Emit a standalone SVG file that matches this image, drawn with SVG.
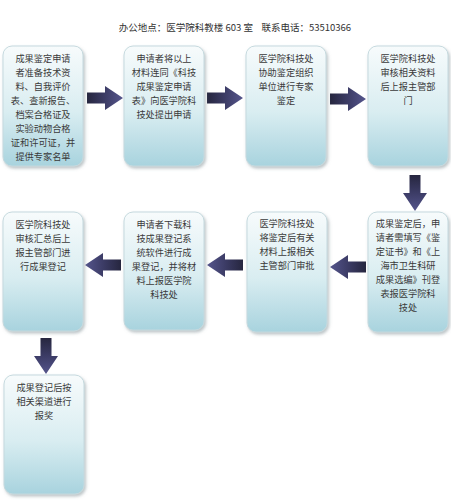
<svg xmlns="http://www.w3.org/2000/svg" width="451" height="500" viewBox="0 0 451 500">
<defs>
<linearGradient id="boxg" x1="0" y1="0" x2="0" y2="1">
<stop offset="0" stop-color="#f7fbfc"/>
<stop offset="0.55" stop-color="#d9edf1"/>
<stop offset="1" stop-color="#a8d3de"/>
</linearGradient>
<linearGradient id="arrg" x1="0" y1="0" x2="1" y2="0">
<stop offset="0" stop-color="#26263f"/>
<stop offset="0.5" stop-color="#3c3c66"/>
<stop offset="1" stop-color="#55558c"/>
</linearGradient>
<filter id="sh" x="-10%" y="-10%" width="130%" height="130%">
<feDropShadow dx="1.5" dy="2" stdDeviation="1.5" flood-color="#7a8a90" flood-opacity="0.5"/>
</filter>
<path id="arr" d="M0,-5.5 H18 V-12 L36,0 L18,12 V5.5 H0 Z"/>
</defs>
<style>
.box{fill:url(#boxg);stroke:#c5d9de;stroke-width:1;filter:url(#sh)}
.t{font-family:"Noto Sans CJK SC","Liberation Sans",sans-serif;font-size:9.2px;fill:#3a3a3a;text-anchor:middle}
.title{font-family:"Noto Sans CJK SC","Liberation Sans",sans-serif;font-size:9.5px;fill:#333;text-anchor:middle}
.a{fill:url(#arrg)}
</style>
<rect width="451" height="500" fill="#ffffff"/>
<text class="title" x="235" y="31" xml:space="preserve">办公地点：医学院科教楼 603 室    联系电话：53510366</text>

<g id="connectors">
<use href="#arr" class="a" transform="translate(87,98)"/>
<use href="#arr" class="a" transform="translate(207,98)"/>
<use href="#arr" class="a" transform="translate(330,99)"/>
<use href="#arr" class="a" transform="translate(415,175) rotate(90)"/>
<use href="#arr" class="a" transform="translate(366,267) rotate(180)"/>
<use href="#arr" class="a" transform="translate(243,265) rotate(180)"/>
<use href="#arr" class="a" transform="translate(121,265) rotate(180)"/>
<use href="#arr" class="a" transform="translate(46,338) rotate(90)"/>
</g>

<g id="n1">
<rect class="box" x="3" y="46" width="80" height="120" rx="9"/>
<text class="t" x="43" y="62">成果鉴定申请</text>
<text class="t" x="43" y="76">者准备技术资</text>
<text class="t" x="43" y="90">料、自我评价</text>
<text class="t" x="43" y="104">表、查新报告、</text>
<text class="t" x="43" y="118">档案合格证及</text>
<text class="t" x="43" y="132">实验动物合格</text>
<text class="t" x="43" y="146">证和许可证，并</text>
<text class="t" x="43" y="160">提供专家名单</text>
</g>
<g id="n2">
<rect class="box" x="124" y="46" width="80" height="120" rx="9"/>
<text class="t" x="164" y="62">申请者将以上</text>
<text class="t" x="164" y="76">材料连同《科技</text>
<text class="t" x="164" y="90">成果鉴定申请</text>
<text class="t" x="164" y="104">表》向医学院科</text>
<text class="t" x="164" y="118">技处提出申请</text>
</g>
<g id="n3">
<rect class="box" x="246" y="46" width="80" height="120" rx="9"/>
<text class="t" x="286" y="62">医学院科技处</text>
<text class="t" x="286" y="76">协助鉴定组织</text>
<text class="t" x="286" y="90">单位进行专家</text>
<text class="t" x="286" y="104">鉴定</text>
</g>
<g id="n4">
<rect class="box" x="368" y="46" width="80" height="120" rx="9"/>
<text class="t" x="408" y="62">医学院科技处</text>
<text class="t" x="408" y="76">审核相关资料</text>
<text class="t" x="408" y="90">后上报主管部</text>
<text class="t" x="408" y="104">门</text>
</g>
<g id="n5">
<rect class="box" x="368" y="212" width="80" height="120" rx="9"/>
<text class="t" x="408" y="227">成果鉴定后，申</text>
<text class="t" x="408" y="241">请者需填写《鉴</text>
<text class="t" x="408" y="255">定证书》和《上</text>
<text class="t" x="408" y="269">海市卫生科研</text>
<text class="t" x="408" y="283">成果选编》刊登</text>
<text class="t" x="408" y="297">表报医学院科</text>
<text class="t" x="408" y="311">技处</text>
</g>
<g id="n6">
<rect class="box" x="247" y="212" width="80" height="120" rx="9"/>
<text class="t" x="287" y="227">医学院科技处</text>
<text class="t" x="287" y="241">将鉴定后有关</text>
<text class="t" x="287" y="255">材料上报相关</text>
<text class="t" x="287" y="269">主管部门审批</text>
</g>
<g id="n7">
<rect class="box" x="124" y="212" width="80" height="118" rx="9"/>
<text class="t" x="164" y="228">申请者下载科</text>
<text class="t" x="164" y="242">技成果登记系</text>
<text class="t" x="164" y="256">统软件进行成</text>
<text class="t" x="164" y="270">果登记，并将材</text>
<text class="t" x="164" y="284">料上报医学院</text>
<text class="t" x="164" y="298">科技处</text>
</g>
<g id="n8">
<rect class="box" x="3" y="212" width="80" height="119" rx="9"/>
<text class="t" x="43" y="228">医学院科技处</text>
<text class="t" x="43" y="242">审核汇总后上</text>
<text class="t" x="43" y="256">报主管部门进</text>
<text class="t" x="43" y="270">行成果登记</text>
</g>
<g id="n9">
<rect class="box" x="4" y="375" width="80" height="119" rx="9"/>
<text class="t" x="44" y="391">成果登记后按</text>
<text class="t" x="44" y="405">相关渠道进行</text>
<text class="t" x="44" y="419">报奖</text>
</g>
</svg>
